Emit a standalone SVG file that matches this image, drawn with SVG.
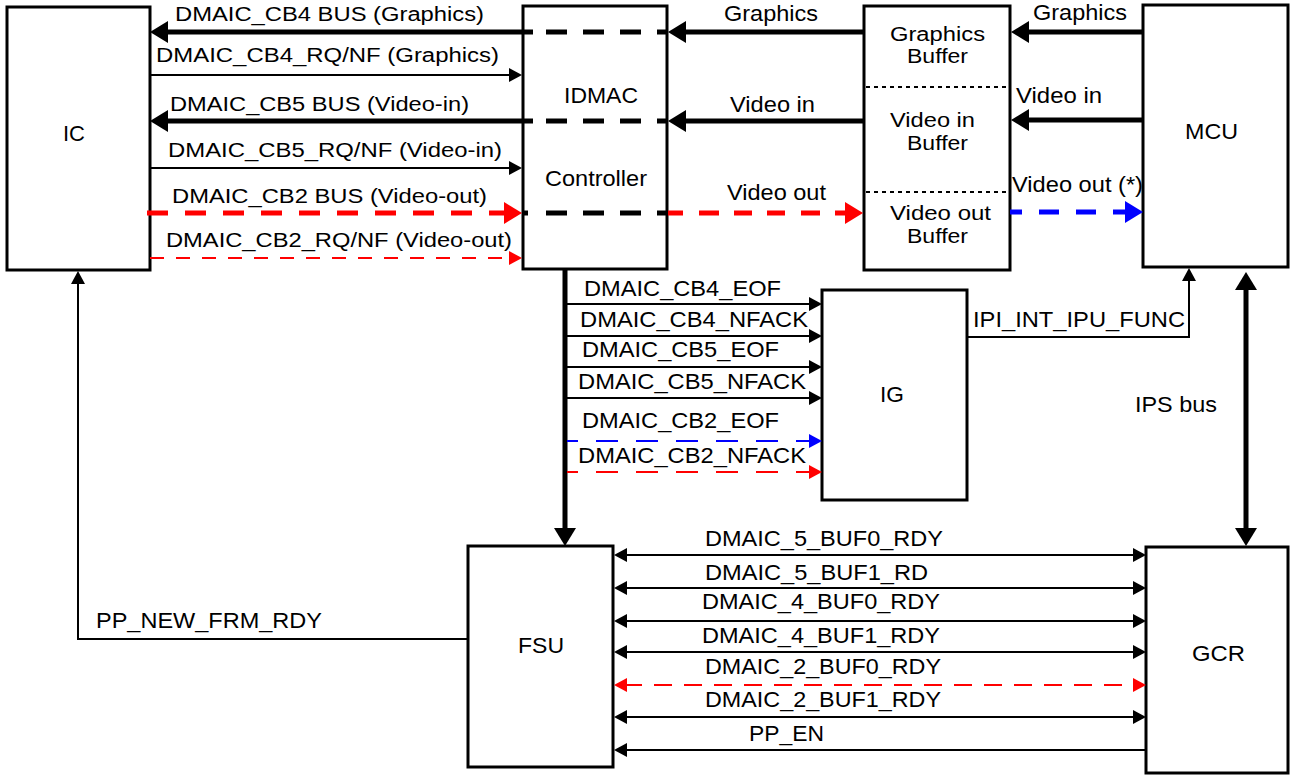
<svg xmlns="http://www.w3.org/2000/svg" width="1291" height="776" viewBox="0 0 1291 776">
<style>
.box{fill:#fff;stroke:#000;stroke-width:3}
text{font-family:"Liberation Sans",Arial,Helvetica,sans-serif;font-size:22px;fill:#000}
.sm{font-size:20px}
.thk{fill:none;stroke-width:5}
.thn{fill:none;stroke-width:2}
.k{stroke:#000}.r{stroke:#f00}.b{stroke:#00f}
.div{stroke:#000;stroke-width:2;stroke-dasharray:4 4}
</style>
<defs>
<marker id="tk" markerUnits="userSpaceOnUse" markerWidth="20" markerHeight="22" refX="4" refY="11" orient="auto-start-reverse"><path d="M0,0 L18,11 L0,22 z" fill="#000"/></marker>
<marker id="tr" markerUnits="userSpaceOnUse" markerWidth="20" markerHeight="22" refX="4" refY="11" orient="auto-start-reverse"><path d="M0,0 L18,11 L0,22 z" fill="#f00"/></marker>
<marker id="tb" markerUnits="userSpaceOnUse" markerWidth="20" markerHeight="22" refX="4" refY="11" orient="auto-start-reverse"><path d="M0,0 L18,11 L0,22 z" fill="#00f"/></marker>
<marker id="nk" markerUnits="userSpaceOnUse" markerWidth="14" markerHeight="14" refX="3" refY="7" orient="auto-start-reverse"><path d="M0,0 L13,7 L0,14 z" fill="#000"/></marker>
<marker id="nr" markerUnits="userSpaceOnUse" markerWidth="14" markerHeight="14" refX="3" refY="7" orient="auto-start-reverse"><path d="M0,0 L13,7 L0,14 z" fill="#f00"/></marker>
<marker id="nb" markerUnits="userSpaceOnUse" markerWidth="14" markerHeight="14" refX="3" refY="7" orient="auto-start-reverse"><path d="M0,0 L13,7 L0,14 z" fill="#00f"/></marker>
</defs>
<rect width="1291" height="776" fill="#fff"/>

<g id="IC"><rect class="box" x="7" y="7" width="143" height="263"/><text x="63" y="141" textLength="22" lengthAdjust="spacingAndGlyphs">IC</text></g>
<g id="IDMAC"><rect class="box" x="523" y="6" width="144" height="263"/><text x="564" y="103" textLength="74" lengthAdjust="spacingAndGlyphs">IDMAC</text><text x="545" y="186" textLength="102" lengthAdjust="spacingAndGlyphs">Controller</text></g>
<g id="Buffers"><rect class="box" x="864" y="6" width="146" height="264"/>
<line class="div" x1="866" y1="87" x2="1008" y2="87"/><line class="div" x1="866" y1="192" x2="1008" y2="192"/>
<text class="sm" x="890" y="41" textLength="95" lengthAdjust="spacingAndGlyphs">Graphics</text><text class="sm" x="907" y="63" textLength="61" lengthAdjust="spacingAndGlyphs">Buffer</text>
<text class="sm" x="890" y="127" textLength="85" lengthAdjust="spacingAndGlyphs">Video in</text><text class="sm" x="907" y="150" textLength="61" lengthAdjust="spacingAndGlyphs">Buffer</text>
<text class="sm" x="890" y="220" textLength="101" lengthAdjust="spacingAndGlyphs">Video out</text><text class="sm" x="907" y="243" textLength="61" lengthAdjust="spacingAndGlyphs">Buffer</text></g>
<g id="MCU"><rect class="box" x="1143" y="5" width="145" height="262"/><text x="1185" y="139" textLength="53" lengthAdjust="spacingAndGlyphs">MCU</text></g>
<g id="IG"><rect class="box" x="822" y="290" width="145" height="210"/><text x="880" y="402" textLength="24" lengthAdjust="spacingAndGlyphs">IG</text></g>
<g id="FSU"><rect class="box" x="468" y="546" width="145" height="221"/><text x="518" y="653" textLength="46" lengthAdjust="spacingAndGlyphs">FSU</text></g>
<g id="GCR"><rect class="box" x="1146" y="547" width="142" height="226"/><text x="1192" y="661" textLength="53" lengthAdjust="spacingAndGlyphs">GCR</text></g>

<g id="connectors">
<line class="thk k" x1="533" y1="32" x2="164" y2="32" marker-end="url(#tk)"/>
<line class="thk k" x1="546" y1="32" x2="668" y2="32" stroke-dasharray="21 16"/>
<line class="thk k" x1="864" y1="32" x2="682" y2="32" marker-end="url(#tk)"/>
<line class="thk k" x1="1143" y1="32" x2="1025" y2="32" marker-end="url(#tk)"/>
<line class="thn k" x1="150" y1="75" x2="512" y2="75" marker-end="url(#nk)"/>
<line class="thk k" x1="533" y1="121" x2="164" y2="121" marker-end="url(#tk)"/>
<line class="thk k" x1="546" y1="121" x2="668" y2="121" stroke-dasharray="21 16"/>
<line class="thk k" x1="864" y1="121" x2="682" y2="121" marker-end="url(#tk)"/>
<line class="thk k" x1="1143" y1="120" x2="1025" y2="120" marker-end="url(#tk)"/>
<line class="thn k" x1="150" y1="168" x2="512" y2="168" marker-end="url(#nk)"/>
<line class="thk r" x1="147" y1="213" x2="508" y2="213" stroke-dasharray="21 17" marker-end="url(#tr)"/>
<line class="thk k" x1="522" y1="213" x2="528" y2="213"/>
<line class="thk k" x1="546" y1="213" x2="668" y2="213" stroke-dasharray="21 16"/>
<line class="thk r" x1="668" y1="213" x2="849" y2="213" stroke-dasharray="15 16 20 15 18 15 18 16 19 15" marker-end="url(#tr)"/>
<line class="thk b" x1="1010" y1="212" x2="1129" y2="212" stroke-dasharray="20 17" stroke-dashoffset="8" marker-end="url(#tb)"/>
<line class="thn r" x1="150" y1="258" x2="512" y2="258" stroke-dasharray="14 12" marker-end="url(#nr)"/>
<line class="thk k" x1="565" y1="269" x2="565" y2="532" marker-end="url(#tk)"/>
<line class="thn k" x1="567" y1="304" x2="812" y2="304" marker-end="url(#nk)"/>
<line class="thn k" x1="567" y1="336" x2="812" y2="336" marker-end="url(#nk)"/>
<line class="thn k" x1="567" y1="367" x2="812" y2="367" marker-end="url(#nk)"/>
<line class="thn k" x1="567" y1="398" x2="812" y2="398" marker-end="url(#nk)"/>
<line class="thn b" x1="567" y1="441" x2="812" y2="441" stroke-dasharray="22 18" stroke-dashoffset="11" marker-end="url(#nb)"/>
<line class="thn r" x1="567" y1="472" x2="812" y2="472" stroke-dasharray="22 18" stroke-dashoffset="11" marker-end="url(#nr)"/>
<polyline class="thn k" points="967,337 1189,337 1189,278" marker-end="url(#nk)"/>
<line class="thk k" x1="1246" y1="286" x2="1246" y2="532" marker-start="url(#tk)" marker-end="url(#tk)"/>
<polyline class="thn k" points="468,639 78,639 78,281" marker-end="url(#nk)"/>
<line class="thn k" x1="624" y1="555" x2="1136" y2="555" marker-start="url(#nk)" marker-end="url(#nk)"/>
<line class="thn k" x1="624" y1="588" x2="1136" y2="588" marker-start="url(#nk)" marker-end="url(#nk)"/>
<line class="thn k" x1="624" y1="621" x2="1136" y2="621" marker-start="url(#nk)" marker-end="url(#nk)"/>
<line class="thn k" x1="624" y1="652" x2="1136" y2="652" marker-start="url(#nk)" marker-end="url(#nk)"/>
<line class="thn r" x1="624" y1="685" x2="1136" y2="685" stroke-dasharray="18 12" marker-start="url(#nr)" marker-end="url(#nr)"/>
<line class="thn k" x1="624" y1="717" x2="1136" y2="717" marker-start="url(#nk)" marker-end="url(#nk)"/>
<line class="thn k" x1="1146" y1="750" x2="624" y2="750" marker-end="url(#nk)"/>
</g>

<g id="labels">
<text class="sm" x="175" y="21" textLength="309" lengthAdjust="spacingAndGlyphs">DMAIC_CB4 BUS (Graphics)</text>
<text class="sm" x="156" y="62" textLength="343" lengthAdjust="spacingAndGlyphs">DMAIC_CB4_RQ/NF (Graphics)</text>
<text class="sm" x="170" y="111" textLength="299" lengthAdjust="spacingAndGlyphs">DMAIC_CB5 BUS (Video-in)</text>
<text class="sm" x="168" y="157" textLength="334" lengthAdjust="spacingAndGlyphs">DMAIC_CB5_RQ/NF (Video-in)</text>
<text class="sm" x="172" y="203" textLength="315" lengthAdjust="spacingAndGlyphs">DMAIC_CB2 BUS (Video-out)</text>
<text class="sm" x="166" y="247" textLength="346" lengthAdjust="spacingAndGlyphs">DMAIC_CB2_RQ/NF (Video-out)</text>
<text x="724" y="21" textLength="94" lengthAdjust="spacingAndGlyphs">Graphics</text>
<text x="730" y="112" textLength="85" lengthAdjust="spacingAndGlyphs">Video in</text>
<text x="727" y="200" textLength="99" lengthAdjust="spacingAndGlyphs">Video out</text>
<text x="1033" y="20" textLength="94" lengthAdjust="spacingAndGlyphs">Graphics</text>
<text x="1016" y="103" textLength="86" lengthAdjust="spacingAndGlyphs">Video in</text>
<text x="1012" y="192" textLength="131" lengthAdjust="spacingAndGlyphs">Video out (*)</text>
<text x="584" y="296" textLength="197" lengthAdjust="spacingAndGlyphs">DMAIC_CB4_EOF</text>
<text x="580" y="327" textLength="228" lengthAdjust="spacingAndGlyphs">DMAIC_CB4_NFACK</text>
<text x="582" y="357" textLength="197" lengthAdjust="spacingAndGlyphs">DMAIC_CB5_EOF</text>
<text x="578" y="389" textLength="228" lengthAdjust="spacingAndGlyphs">DMAIC_CB5_NFACK</text>
<text x="582" y="428" textLength="197" lengthAdjust="spacingAndGlyphs">DMAIC_CB2_EOF</text>
<text x="578" y="463" textLength="228" lengthAdjust="spacingAndGlyphs">DMAIC_CB2_NFACK</text>
<text x="973" y="327" textLength="212" lengthAdjust="spacingAndGlyphs">IPI_INT_IPU_FUNC</text>
<text x="1135" y="412" textLength="82" lengthAdjust="spacingAndGlyphs">IPS bus</text>
<text x="96" y="628" textLength="226" lengthAdjust="spacingAndGlyphs">PP_NEW_FRM_RDY</text>
<text x="705" y="546" textLength="238" lengthAdjust="spacingAndGlyphs">DMAIC_5_BUF0_RDY</text>
<text x="705" y="580" textLength="223" lengthAdjust="spacingAndGlyphs">DMAIC_5_BUF1_RD</text>
<text x="702" y="609" textLength="238" lengthAdjust="spacingAndGlyphs">DMAIC_4_BUF0_RDY</text>
<text x="702" y="643" textLength="238" lengthAdjust="spacingAndGlyphs">DMAIC_4_BUF1_RDY</text>
<text x="705" y="674" textLength="236" lengthAdjust="spacingAndGlyphs">DMAIC_2_BUF0_RDY</text>
<text x="705" y="707" textLength="236" lengthAdjust="spacingAndGlyphs">DMAIC_2_BUF1_RDY</text>
<text x="749" y="741" textLength="75" lengthAdjust="spacingAndGlyphs">PP_EN</text>
</g>
</svg>
